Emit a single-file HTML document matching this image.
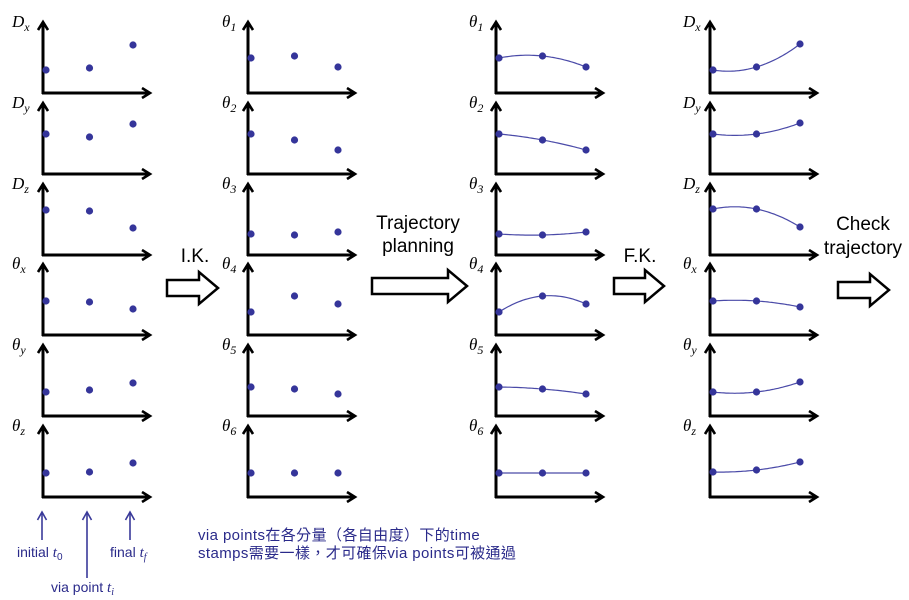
<!DOCTYPE html>
<html><head><meta charset="utf-8">
<style>
body{margin:0;background:#fff;width:909px;height:600px;overflow:hidden}
svg{display:block}
</style></head>
<body>
<svg id="c" width="909" height="600" xmlns="http://www.w3.org/2000/svg">
<defs>
<marker id="ah" markerWidth="12" markerHeight="12" refX="9" refY="6" orient="auto" markerUnits="userSpaceOnUse">
<path d="M1,1 L9,6 L1,11" fill="none" stroke="#000" stroke-width="2.6"/>
</marker>
<marker id="bh" markerWidth="12" markerHeight="12" refX="9" refY="6" orient="auto" markerUnits="userSpaceOnUse">
<path d="M1,1.5 L9,6 L1,10.5" fill="none" stroke="#3a3a9a" stroke-width="1.6"/>
</marker>
</defs>
<g id="panels"></g>
<g>
<text x="195" y="262" font-family="Liberation Sans, sans-serif" font-size="19" text-anchor="middle">I.K.</text>
<path d="M167,280 L199,280 L199,272 L218,288 L199,304 L199,296 L167,296 Z" fill="#fff" stroke="#000" stroke-width="2.5"/>
</g>
<g>
<text x="418" y="229" font-family="Liberation Sans, sans-serif" font-size="19" text-anchor="middle">Trajectory</text>
<text x="418" y="252" font-family="Liberation Sans, sans-serif" font-size="19" text-anchor="middle">planning</text>
<path d="M372,278 L448,278 L448,270 L467,286 L448,302 L448,294 L372,294 Z" fill="#fff" stroke="#000" stroke-width="2.5"/>
</g>
<g>
<text x="640" y="262" font-family="Liberation Sans, sans-serif" font-size="19" text-anchor="middle">F.K.</text>
<path d="M614,278 L645,278 L645,270 L664,286 L645,302 L645,294 L614,294 Z" fill="#fff" stroke="#000" stroke-width="2.5"/>
</g>
<g>
<text x="863" y="230" font-family="Liberation Sans, sans-serif" font-size="19" text-anchor="middle">Check</text>
<text x="863" y="254" font-family="Liberation Sans, sans-serif" font-size="19" text-anchor="middle">trajectory</text>
<path d="M838,282 L870,282 L870,274 L889,290 L870,306 L870,298 L838,298 Z" fill="#fff" stroke="#000" stroke-width="2.5"/>
</g>
<g stroke="#3a3a9a" stroke-width="1.6">
<line x1="42" y1="540" x2="42" y2="512" marker-end="url(#bh)"/>
<line x1="87" y1="578" x2="87" y2="512" marker-end="url(#bh)"/>
<line x1="130" y1="540" x2="130" y2="512" marker-end="url(#bh)"/>
</g>
<g font-family="Liberation Sans, sans-serif" font-size="14" fill="#2a2a8a">
<text x="17" y="557">initial <tspan font-family="Liberation Serif, serif" font-style="italic" font-size="15">t</tspan><tspan font-size="10" dy="3">0</tspan></text>
<text x="51" y="592">via point <tspan font-family="Liberation Serif, serif" font-style="italic" font-size="15">t</tspan><tspan font-family="Liberation Serif, serif" font-style="italic" font-size="10" dy="3">i</tspan></text>
<text x="110" y="557">final <tspan font-family="Liberation Serif, serif" font-style="italic" font-size="15">t</tspan><tspan font-family="Liberation Serif, serif" font-style="italic" font-size="10" dy="3">f</tspan></text>
<text x="198" y="540" font-size="15" letter-spacing="0.4" font-family="Liberation Sans, 'Noto Sans CJK TC', sans-serif">via points在各分量（各自由度）下的time</text>
<text x="198" y="558" font-size="15" letter-spacing="0.4" font-family="Liberation Sans, 'Noto Sans CJK TC', sans-serif">stamps需要一樣，才可確保via points可被通過</text>
</g>
</svg>
<script>
const cartLabels = [["D","x"],["D","y"],["D","z"],["θ","x"],["θ","y"],["θ","z"]];
const jointLabels = [["θ","1"],["θ","2"],["θ","3"],["θ","4"],["θ","5"],["θ","6"]];
const cartValues = [[23,25,48],[40,37,50],[45,44,27],[34,33,26],[24,26,33],[24,25,34]];
const jointValues = [[35,37,26],[40,34,24],[21,20,23],[23,39,31],[29,27,22],[24,24,24]];
const fkValues = [[23,26,49],[40,40,51],[46,46,28],[34,34,28],[24,24,34],[25,27,35]];

const columns = [
  {x0:43, lblX:12, labels:cartLabels, vals:cartValues, curve:false, name:'cartesian-via-points'},
  {x0:248, lblX:222, labels:jointLabels, vals:jointValues, curve:false, name:'joint-via-points'},
  {x0:496, lblX:469, labels:jointLabels, vals:jointValues, curve:true, name:'joint-trajectories'},
  {x0:710, lblX:683, labels:cartLabels, vals:fkValues, curve:true, name:'cartesian-trajectories'}
];
const rowBase = [93,174,255,335,416,497];
const tIdx = [0,1,2];
const NS = "http://www.w3.org/2000/svg";
const g = document.getElementById('panels');
const xScale = (x0,t)=> x0 + 3 + t*43.5;
const yScale = (base,v)=> base - v;
function mk(tag, attrs, parent){const e=document.createElementNS(NS,tag);for(const k in attrs)e.setAttribute(k,attrs[k]);parent.appendChild(e);return e;}
columns.forEach((col,ci)=>{
  const cg = mk('g',{},g);
  
  
  rowBase.forEach((b,ri)=>{
    const pg = mk('g',{},cg);
    
    
    const ya = mk('line',{x1:col.x0,y1:b+1,x2:col.x0,y2:b-71,stroke:'#000','stroke-width':3,'marker-end':'url(#ah)'},pg);
    
    
    const xa = mk('line',{x1:col.x0-1,y1:b,x2:col.x0+107,y2:b,stroke:'#000','stroke-width':3,'marker-end':'url(#ah)'},pg);
    
    
    const t = mk('text',{x:col.lblX,y:b-66,'font-family':'Liberation Serif, serif','font-style':'italic','font-size':17},pg);
    t.textContent = col.labels[ri][0];
    const s = mk('tspan',{'font-size':12,dy:4},t);
    s.textContent = col.labels[ri][1];
    
    
    const v = col.vals[ri];
    const xs = tIdx.map(i=>xScale(col.x0,i));
    const ys = v.map(val=>yScale(b,val));
    if(col.curve){
      let d='';
      for(let k=0;k<=40;k++){
        const x = xs[0]+(xs[2]-xs[0])*k/40;
        const L0=(x-xs[1])*(x-xs[2])/((xs[0]-xs[1])*(xs[0]-xs[2]));
        const L1=(x-xs[0])*(x-xs[2])/((xs[1]-xs[0])*(xs[1]-xs[2]));
        const L2=(x-xs[0])*(x-xs[1])/((xs[2]-xs[0])*(xs[2]-xs[1]));
        const y=ys[0]*L0+ys[1]*L1+ys[2]*L2;
        d+=(k?'L':'M')+x.toFixed(1)+','+y.toFixed(1);
      }
      const p = mk('path',{d:d,fill:'none',stroke:'#4a4aa8','stroke-width':1.2},pg);
      
      
    }
    xs.forEach((x,i)=>{
      const c = mk('circle',{cx:x,cy:ys[i],r:3.6,fill:'#35359a'},pg);
      
      
    });
  });
});
</script>
</body></html>
